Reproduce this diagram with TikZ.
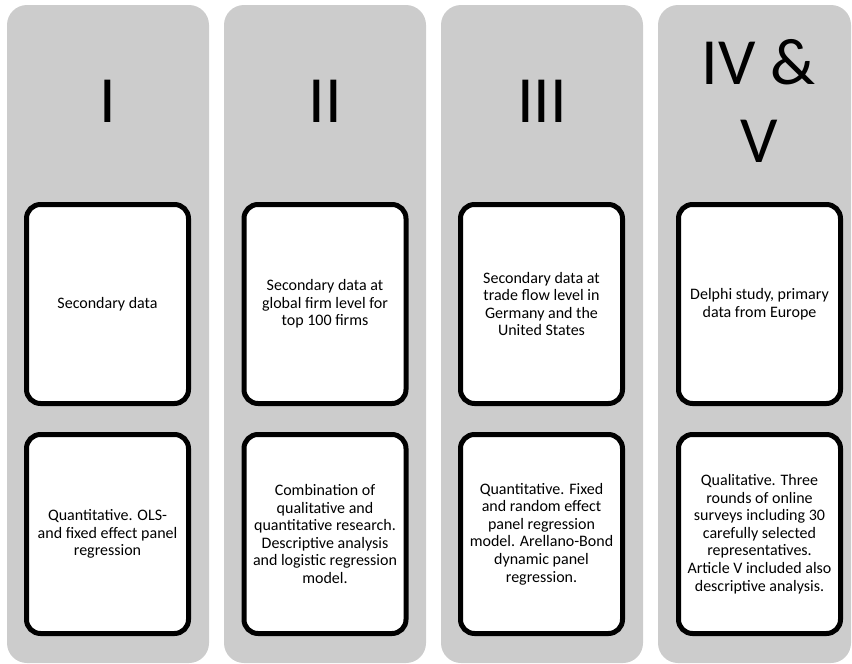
\documentclass[tikz,border=0pt]{standalone}
\usepackage{fontspec}
\setmainfont{Carlito}
\usetikzlibrary{positioning}
\definecolor{stagefill}{RGB}{204,204,204}
\tikzset{
  stage/.style={fill=stagefill, rounded corners=20pt, minimum width=202pt, minimum height=658pt, inner sep=0pt},
  numeral/.style={font=\fontsize{66}{78}\selectfont, align=center, inner sep=0pt},
  infobox/.style={draw=black, fill=white, line width=5pt, rounded corners=14pt, minimum width=162pt, minimum height=199pt, inner sep=0pt, align=center, font=\fontsize{16}{17.6}\selectfont},
}

\begin{document}
\begin{tikzpicture}[x=1pt, y=-1pt]
  \useasboundingbox (0,0) rectangle (852,664);

  % --- Stages ---
  \node[stage] (st1) at (108,334) {};
  \node[stage] (st2) at (325,334) {};
  \node[stage] (st3) at (542,334) {};
  \node[stage, minimum width=193pt] (st4) at (754.5,334) {};

  % --- Numerals ---
  \node[numeral] (num1) at (108,101) {I};
  \node[numeral] (num2) at (325,101) {II};
  \node[numeral] (num3) at (542,101) {III};
  \node[numeral] (num4) at (759,101) {IV \&\\V};

  % --- Data ---
  \node[infobox] (data1) at (107.5,304) {Secondary data};
  \node[infobox] (data2) at (325,304) {Secondary data at\\global firm level for\\top 100 firms};
  \node[infobox] (data3) at (541.5,304) {Secondary data at\\trade flow level in\\Germany and the\\United States};
  \node[infobox] (data4) at (759.5,304) {Delphi study, primary\\data from Europe};

  % --- Methods ---
  \node[infobox] (meth1) at (107.5,534) {Quantitative. OLS-\\and fixed effect panel\\regression};
  \node[infobox] (meth2) at (325,534) {Combination of\\qualitative and\\quantitative research.\\Descriptive analysis\\and logistic regression\\model.};
  \node[infobox] (meth3) at (541.5,534) {Quantitative. Fixed\\and random effect\\panel regression\\model. Arellano-Bond\\dynamic panel\\regression.};
  \node[infobox] (meth4) at (759.5,534) {Qualitative. Three\\rounds of online\\surveys including 30\\carefully selected\\representatives.\\Article V included also\\descriptive analysis.};

\end{tikzpicture}
\end{document}
